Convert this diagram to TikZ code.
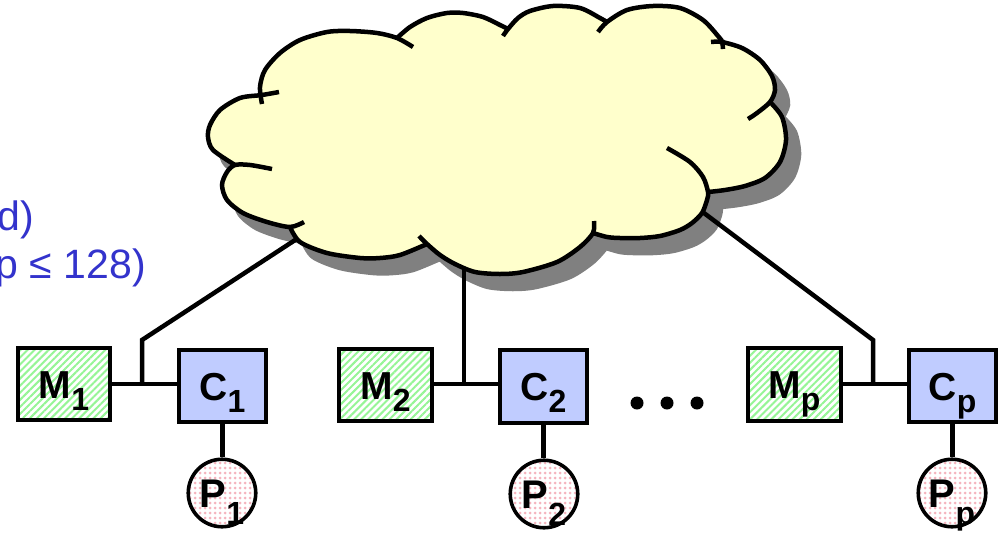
\documentclass[tikz,border=0pt]{standalone}
\usepackage{fontspec}
\setmainfont{Liberation Sans}
\usetikzlibrary{patterns.meta}

\definecolor{cloudfill}{RGB}{255,255,204}
\definecolor{shadowgray}{RGB}{128,128,128}
\definecolor{memgreen}{RGB}{150,245,150}
\definecolor{cachefill}{RGB}{192,204,255}
\definecolor{procpink}{RGB}{245,180,190}
\definecolor{notetext}{RGB}{51,51,204}

% lowered, slightly smaller index after a letter
\newcommand{\subtxt}[2][12pt]{\raisebox{-#1}{\fontsize{32}{32}\selectfont #2}}

% outline of the interconnect cloud (cusp to cusp, one plot per lobe)
\newcommand{\cloudoutline}{%
 plot[smooth] coordinates {(262,95) (260,85) (265,70) (280,53) (300,40) (327,32) (350,31) (377,33) (397,38)}
 -- plot[smooth] coordinates {(397,38) (410,27) (427,18) (447,13) (463,13) (483,17) (500,25) (508,29)}
 -- plot[smooth] coordinates {(508,29) (518,18) (530,11) (553,6) (580,8) (600,18) (607,22)}
 -- plot[smooth] coordinates {(607,22) (627,10) (653,6) (680,8) (703,20) (718,36) (722,42)}
 -- plot[smooth] coordinates {(722,42) (742,48) (760,60) (772,76) (775,90) (770,102)}
 -- plot[smooth] coordinates {(770,102) (782,117) (786,140) (780,162) (765,178) (745,186) (725,190) (708,192)}
 -- plot[smooth] coordinates {(708,192) (707,200) (702,213) (692,223) (680,230) (660,236) (640,238) (620,238) (607,237) (593,233)}
 -- plot[smooth] coordinates {(593,233) (580,247) (557,262) (523,272) (500,274) (475,272) (455,264) (440,255) (427,244)}
 -- plot[smooth] coordinates {(427,244) (400,255) (380,258) (360,258) (327,253) (300,242) (290,227)}
 -- plot[smooth] coordinates {(290,227) (267,222) (243,213) (227,200) (222,185) (227,172) (235,165)}
 -- plot[smooth] coordinates {(235,165) (213,150) (208,137) (210,125) (220,110) (240,98) (262,95)}
 -- cycle}

\tikzset{
  wire/.style={line width=4.5pt},
  cloudline/.style={line width=4.5pt},
  mem/.style={draw, line width=3.6pt, minimum width=92.5pt, minimum height=72.5pt,
    inner sep=0pt, preaction={fill=white},
    pattern={Lines[angle=45,distance=5pt,line width=2pt]}, pattern color=memgreen,
    font=\bfseries\fontsize{39}{39}\selectfont, text height=28pt, text depth=0pt},
  cache/.style={draw, line width=3.6pt, fill=cachefill, minimum width=87.5pt,
    minimum height=72.5pt, inner sep=0pt,
    font=\bfseries\fontsize{39}{39}\selectfont, text height=28pt, text depth=0pt},
  proc/.style={circle, draw, line width=3.6pt, minimum size=67.5pt, inner sep=0pt,
    preaction={fill=white},
    pattern={Dots[radius=1.5pt,distance=5pt]}, pattern color=procpink,
    font=\bfseries\fontsize{40}{40}\selectfont, text height=28pt, text depth=0pt},
  dotn/.style={circle, fill=black, inner sep=0pt, minimum size=13pt},
  note/.style={anchor=base east, inner sep=0pt, text=notetext,
    font=\fontsize{41}{41}\selectfont}
}

\begin{document}
\begin{tikzpicture}[x=1pt, y=-1pt]
\useasboundingbox (0,0) rectangle (1000,533);

% side note (partly outside the frame)
\node[note] (note1) at (34,230) {d)};
\node[note] (note2) at (146,278) {p ≤ 128)};

% cloud shadow
\filldraw[shadowgray, line width=4.5pt, shift={(13,15)}] \cloudoutline;

% junction points and where the links meet the cloud
\coordinate (j1) at (142,384);
\coordinate (k1) at (142,340);
\coordinate (e1) at (312,229);
\coordinate (j2) at (464,384);
\coordinate (e2) at (464,255);
\coordinate (j3) at (873,384);
\coordinate (k3) at (873,340);
\coordinate (e3) at (692,204);

% links from the nodes up to the network
\draw[wire] (j1) -- (k1) -- (e1);
\draw[wire] (j2) -- (e2);
\draw[wire] (j3) -- (k3) -- (e3);

% the cloud itself
\fill[cloudfill] \cloudoutline;
\begin{scope}[cloudline]
\draw plot[smooth] coordinates {(262,104) (260,87) (265,70) (280,53) (300,40) (327,32) (350,31) (377,33) (397,38) (413,47)};
\draw plot[smooth] coordinates {(397,38) (410,27) (427,18) (447,13) (463,13) (483,17) (500,25) (508,29)};
\draw plot[smooth] coordinates {(503,36) (508,29) (518,18) (530,11) (553,6) (580,8) (600,18) (607,22)};
\draw plot[smooth] coordinates {(598,32) (607,22) (627,10) (653,6) (680,8) (703,20) (718,36) (722,42) (723,49)};
\draw plot[smooth] coordinates {(711,42) (722,42) (742,48) (760,60) (772,76) (775,90) (770,102) (757,113) (748,119)};
\draw plot[smooth] coordinates {(770,102) (782,117) (786,140) (780,162) (765,178) (745,186) (725,190) (708,192)};
\draw plot[smooth] coordinates {(667,148) (690,162) (703,177) (708,192) (707,200) (702,213) (692,223) (680,230) (660,236) (640,238) (620,238) (607,237) (593,233)};
\draw plot[smooth] coordinates {(594,221) (593,233) (580,247) (557,262) (523,272) (500,274) (475,272) (455,264) (440,255) (427,244) (419,236)};
\draw plot[smooth] coordinates {(427,244) (400,255) (380,258) (360,258) (327,253) (300,242) (290,227)};
\draw plot[smooth] coordinates {(304,222) (290,227) (267,222) (243,213) (227,200) (222,185) (227,172) (235,165) (250,165) (272,169)};
\draw plot[smooth] coordinates {(235,165) (213,150) (208,137) (210,125) (220,110) (240,98) (262,95) (279,92)};
\end{scope}

% memories, caches and processors
\node[mem]   (M1) at (64,384)    {M\subtxt{1}};
\node[cache] (C1) at (222.5,386) {C\subtxt{1}};
\node[proc]  (P1) at (222,493)   {P\subtxt[17pt]{1}};

\node[mem]   (M2) at (385.5,385) {M\subtxt{2}};
\node[cache] (C2) at (543.5,386.5) {C\subtxt{2}};
\node[proc]  (P2) at (544,494)   {P\subtxt[17pt]{2}};

\node[mem]   (Mp) at (794.5,384.5) {M\subtxt{p}};
\node[cache] (Cp) at (952.5,386) {C\subtxt{p}};
\node[proc]  (Pp) at (952,493)   {P\subtxt[17pt]{p}};

% memory -- cache buses
\draw[wire] (M1.east |- j1) -- (C1.west |- j1);
\draw[wire] (M2.east |- j2) -- (C2.west |- j2);
\draw[wire] (Mp.east |- j3) -- (Cp.west |- j3);

% cache -- processor links
\draw[wire] (C1.south) -- (C1.south |- P1.north);
\draw[wire] (C2.south) -- (C2.south |- P2.north);
\draw[wire] (Cp.south) -- (Cp.south |- Pp.north);

% ellipsis between the nodes
\node[dotn] (dot1) at (637,403) {};
\node[dotn] (dot2) at (667,403) {};
\node[dotn] (dot3) at (697,403) {};
\end{tikzpicture}
\end{document}
